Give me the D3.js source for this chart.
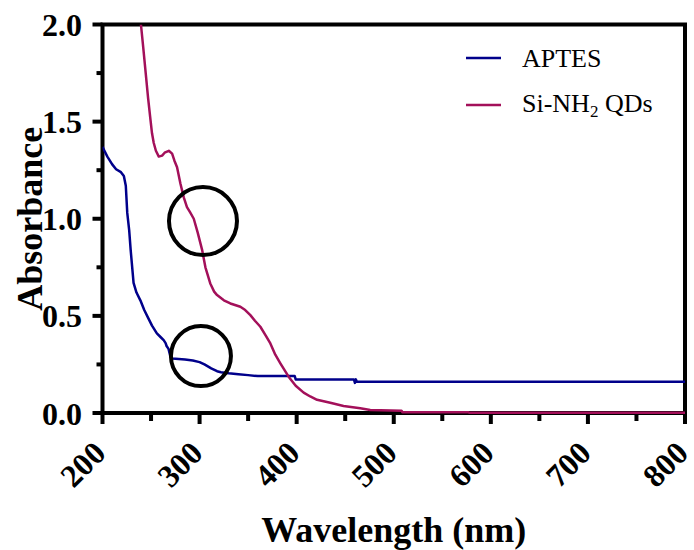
<!DOCTYPE html>
<html><head><meta charset="utf-8">
<script src="https://cdn.jsdelivr.net/npm/d3@7"></script>
<style>body{margin:0;background:#fff;}svg{display:block;}</style>
</head><body>
<script>
// ---- data ----
const aptesWl  = [200,202,205,210,214,219,222,224,225.5,227.5,229,232,235,239,243,247,251,256,260,263,265,266,268,270,272,285,293,300,305,312,318,322,330,340,350,360,398,399,459,460,461,462,800];
const aptesAbs = [1.37,1.35,1.32,1.28,1.255,1.24,1.22,1.17,1.03,0.94,0.84,0.67,0.62,0.58,0.53,0.49,0.45,0.41,0.39,0.375,0.36,0.345,0.33,0.29,0.28,0.275,0.27,0.262,0.25,0.23,0.215,0.21,0.205,0.2,0.195,0.19,0.19,0.173,0.173,0.155,0.173,0.161,0.161];
const siWl  = [239.6,242,244.3,247,249.4,251,252.8,255,258,261.4,264,268.3,271.7,274,276.8,280.3,283.7,287,290,294,298,302.6,306,311,315,318,325,331.7,342,347,352.3,357,362.6,368,372.9,378,383.2,391.7,399,407.2,414,421,434.6,448.3,465.5,475.8,508,509,577,578,800];
const siAbs = [2.0,1.88,1.76,1.62,1.51,1.44,1.39,1.35,1.32,1.325,1.34,1.35,1.335,1.3,1.265,1.18,1.11,1.06,1.035,1.0,0.93,0.84,0.75,0.667,0.625,0.607,0.58,0.564,0.547,0.53,0.504,0.475,0.444,0.4,0.358,0.3,0.256,0.187,0.14,0.105,0.085,0.068,0.053,0.036,0.024,0.015,0.012,0.004,0.004,0.001,0.001];
const seriesNames = ["APTES", "Si-NH"];
const seriesColors = ["#00008b", "#a3105a"];
const xMajor = [200,300,400,500,600,700,800];
const xMinor = [250,350,450,550,650,750];
const yMajor = [0,0.5,1.0,1.5,2.0];
const yMinor = [0.25,0.75,1.25,1.75];
const yLabels = ["0.0","0.5","1.0","1.5","2.0"];
const xLabels = ["200","300","400","500","600","700","800"];
const circleMarks = [{wl:303.5, abs:0.988, r:34},{wl:301.4, abs:0.293, r:30}];

const W = 694, H = 550;
const svg = d3.select("body").append("svg").attr("width", W).attr("height", H);
const x = d3.scaleLinear().domain([200,800]).range([102.5,685]);
const y = d3.scaleLinear().domain([0,2]).range([413,24.5]);
const serif = "'Liberation Serif','Times New Roman',Times,serif";

svg.append("clipPath").attr("id","clip").append("rect")
  .attr("x", x(200)).attr("y", y(2)).attr("width", x(800)-x(200)).attr("height", y(0)-y(2)+2);

// ticks (drawn from scales)
const ticks = svg.append("g").attr("stroke","#000").attr("stroke-width",4);
ticks.selectAll("line.xM").data(xMajor).enter().append("line")
  .attr("x1", d=>x(d)).attr("x2", d=>x(d)).attr("y1", y(0)).attr("y2", y(0)+11);
ticks.selectAll("line.xm").data(xMinor).enter().append("line")
  .attr("x1", d=>x(d)).attr("x2", d=>x(d)).attr("y1", y(0)).attr("y2", y(0)+8);
ticks.selectAll("line.yM").data(yMajor).enter().append("line")
  .attr("x1", x(200)-10).attr("x2", x(200)).attr("y1", d=>y(d)).attr("y2", d=>y(d));
ticks.selectAll("line.ym").data(yMinor).enter().append("line")
  .attr("x1", x(200)-6).attr("x2", x(200)).attr("y1", d=>y(d)).attr("y2", d=>y(d));

// frame
svg.append("rect").attr("x", x(200)).attr("y", y(2)).attr("width", x(800)-x(200)).attr("height", y(0)-y(2))
  .attr("fill","none").attr("stroke","#000").attr("stroke-width",4);

// tick labels
svg.append("g").selectAll("text").data(yMajor).enter().append("text")
  .attr("x", 82).attr("y", d => y(d)).attr("dy","0.36em")
  .attr("text-anchor","end").style("font-family",serif).style("font-weight","bold").style("font-size","32px")
  .text((d,i) => yLabels[i]);
svg.append("g").selectAll("text").data(xMajor).enter().append("text")
  .attr("transform", d => `translate(${x(d)+5},455) rotate(-45)`)
  .attr("text-anchor","end").style("font-family",serif).style("font-weight","bold").style("font-size","32px")
  .text((d,i) => xLabels[i]);

// titles
svg.append("text").attr("x", (x(200)+x(800))/2).attr("y", 542).attr("text-anchor","middle")
  .style("font-family",serif).style("font-weight","bold").style("font-size","36px").text("Wavelength (nm)");
svg.append("text").attr("transform", `translate(42,${(y(0)+y(2))/2}) rotate(-90)`).attr("text-anchor","middle")
  .style("font-family",serif).style("font-weight","bold").style("font-size","36px").text("Absorbance");

// lines
const line = d3.line().x(d => x(d[0])).y(d => y(d[1]));
const series = [d3.zip(aptesWl, aptesAbs), d3.zip(siWl, siAbs)];
svg.append("g").attr("clip-path","url(#clip)").selectAll("path").data(series).enter().append("path")
  .attr("d", line).attr("fill","none").attr("stroke",(d,i)=>seriesColors[i]).attr("stroke-width",2.5)
  .attr("stroke-linejoin","round");

// circles
svg.selectAll("circle.mark").data(circleMarks).enter().append("circle")
  .attr("cx", d => x(d.wl)).attr("cy", d => y(d.abs)).attr("r", d => d.r)
  .attr("fill","none").attr("stroke","#000").attr("stroke-width",4);

// legend
const lg = svg.append("g");
[58, 105].forEach((ly, i) => {
  lg.append("line").attr("x1",466).attr("x2",501).attr("y1",ly).attr("y2",ly)
    .attr("stroke",seriesColors[i]).attr("stroke-width",2.5);
});
lg.append("text").attr("x",522).attr("y",67).style("font-family",serif).style("font-size","26px").text(seriesNames[0]);
const t2 = lg.append("text").attr("x",522).attr("y",112).style("font-family",serif).style("font-size","26px");
t2.append("tspan").text(seriesNames[1]);
t2.append("tspan").style("font-size","17px").attr("dy",5).text("2");
t2.append("tspan").attr("dy",-5).text(" QDs");
</script>
</body></html>
